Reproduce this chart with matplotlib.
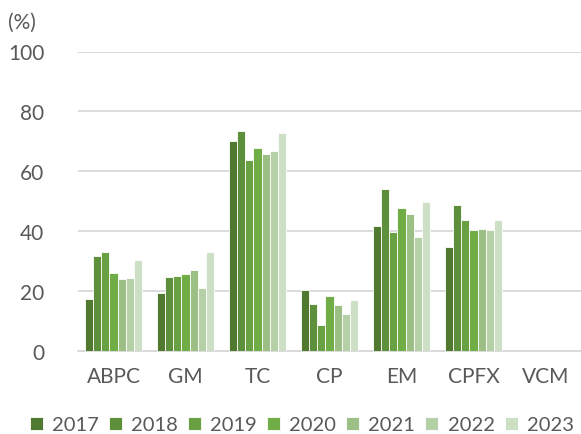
import numpy as np
import matplotlib.pyplot as plt

# Resistance rates (%) by antibiotic and year
drugs = ['ABPC', 'GM', 'TC', 'CP', 'EM', 'CPFX', 'VCM']
years = ['2017', '2018', '2019', '2020', '2021', '2022', '2023']

rate_2017 = [17.2, 19.3, 70.1, 20.3, 41.7, 34.7, 0]
rate_2018 = [31.6, 24.6, 73.4, 15.7, 54.2, 48.9, 0]
rate_2019 = [32.9, 25.1, 63.9, 8.7, 39.7, 43.7, 0]
rate_2020 = [26.2, 25.7, 67.9, 18.2, 47.9, 40.3, 0]
rate_2021 = [24.0, 27.0, 65.9, 15.3, 45.7, 40.7, 0]
rate_2022 = [24.4, 20.9, 66.7, 12.2, 38.0, 40.3, 0]
rate_2023 = [30.3, 32.9, 72.9, 17.0, 49.8, 43.7, 0]

colors = ['#507a30', '#5e8f3b', '#69a042', '#70ad47', '#9bbf85', '#b5cfa6', '#cde0c5']

plt.rcParams['font.family'] = ['Lato', 'DejaVu Sans']

fig = plt.figure(figsize=(5.81, 4.35), dpi=100)
ax = fig.add_axes([77.5 / 581, 1 - 352 / 435, 504 / 581, 299.5 / 435])

series = [rate_2017, rate_2018, rate_2019, rate_2020, rate_2021, rate_2022, rate_2023]
x = np.arange(len(drugs))
group_w = 57 / 72
bar_w = group_w / len(series)
for i, (vals, yr) in enumerate(zip(series, years)):
    offs = -group_w / 2 + bar_w * (i + 0.5)
    ax.bar(x + offs, vals, width=bar_w, color=colors[i], edgecolor='white',
           linewidth=0.6, label=yr, zorder=3)

ax.set_xlim(-0.5, len(drugs) - 0.5)
ax.set_ylim(0, 100)
ax.set_yticks(range(0, 101, 20))
ax.set_xticks(x)
ax.set_xticklabels(drugs)
ax.yaxis.grid(True, color='#d9d9d9', linewidth=1.3, zorder=0)
for side in ['top', 'right', 'left']:
    ax.spines[side].set_visible(False)
ax.spines['bottom'].set_color('#d9d9d9')
ax.spines['bottom'].set_linewidth(1.3)
ax.tick_params(axis='both', length=0, labelsize=15, colors='#595959')
ax.tick_params(axis='y', pad=24)
ax.tick_params(axis='x', pad=11)
for lbl in ax.get_yticklabels():
    lbl.set_horizontalalignment('right')

fig.text(8 / 581, 1 - 23 / 435, '(%)', fontsize=15, color='#595959', va='center')

fig.legend(loc='center left', bbox_to_anchor=(30 / 581, 1 - 426 / 435), ncol=7,
           frameon=False, fontsize=14.5, labelcolor='#595959', handlelength=0.65,
           handleheight=0.65, handletextpad=0.45, columnspacing=0.5, borderpad=0,
           borderaxespad=0)

fig.savefig('out.png', dpi=100)
